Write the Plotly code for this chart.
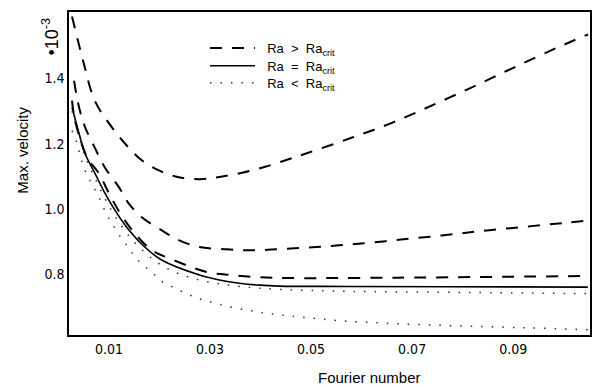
import plotly.graph_objects as go

# Fourier number (x) and max. velocity (y, in units of 1e-3)
x_sup1 = [0.0027, 0.0049, 0.0072, 0.0106, 0.0139, 0.0165, 0.0199, 0.0238, 0.0280, 0.0319,
          0.0364, 0.0411, 0.0457, 0.0496, 0.0580, 0.0660, 0.0746, 0.0831, 0.0910, 0.0989, 0.1048]
y_sup1 = [1.590, 1.454, 1.332, 1.250, 1.188, 1.149, 1.118, 1.097, 1.091, 1.098,
          1.111, 1.130, 1.153, 1.173, 1.218, 1.264, 1.322, 1.382, 1.440, 1.496, 1.535]

x_sup2 = [0.0031, 0.0041, 0.0053, 0.0072, 0.0092, 0.0120, 0.0139, 0.0165, 0.0204, 0.0238,
          0.0279, 0.0333, 0.0378, 0.0421, 0.0467, 0.0510, 0.0555, 0.0600, 0.0648, 0.0693,
          0.0738, 0.0786, 0.0825, 0.0870, 0.0916, 0.0963, 0.1008, 0.1048]
y_sup2 = [1.393, 1.311, 1.250, 1.188, 1.127, 1.066, 1.017, 0.974, 0.935, 0.904,
          0.883, 0.876, 0.873, 0.875, 0.879, 0.883, 0.888, 0.894, 0.901, 0.908,
          0.915, 0.923, 0.930, 0.937, 0.944, 0.951, 0.958, 0.964]

x_sup3 = [0.0027, 0.0033, 0.0057, 0.0080, 0.0100, 0.0122, 0.0151, 0.0185, 0.0218, 0.0295,
          0.0344, 0.0388, 0.0437, 0.0673, 0.1048]
y_sup3 = [1.332, 1.271, 1.158, 1.109, 1.048, 0.987, 0.925, 0.873, 0.849, 0.806,
          0.797, 0.791, 0.788, 0.789, 0.794]

x_crit = [0.00271, 0.00409, 0.00527, 0.00724, 0.00921, 0.01118, 0.01394, 0.01709, 0.02044,
          0.02793, 0.03187, 0.03581, 0.03975, 0.04369, 0.05749, 0.0772, 0.10478]
y_crit = [1.311, 1.231, 1.170, 1.109, 1.048, 0.996, 0.935, 0.883, 0.843,
          0.797, 0.782, 0.772, 0.766, 0.763, 0.762, 0.761, 0.760]

x_sub1 = [0.0027, 0.0041, 0.0053, 0.0072, 0.0092, 0.0112, 0.0139, 0.0171, 0.0204, 0.0240,
          0.0279, 0.0319, 0.0358, 0.0437, 0.0575, 0.0775, 0.1048]
y_sub1 = [1.300, 1.220, 1.160, 1.095, 1.032, 0.978, 0.918, 0.866, 0.827, 0.800,
          0.782, 0.770, 0.762, 0.753, 0.747, 0.744, 0.740]

x_sub2 = [0.0027, 0.0037, 0.0043, 0.0049, 0.0057, 0.0066, 0.0076, 0.0086, 0.0096, 0.0106,
          0.0118, 0.0132, 0.0145, 0.0157, 0.0175, 0.0191, 0.0206, 0.0226, 0.0250, 0.0269,
          0.0289, 0.0313, 0.0334, 0.0378, 0.0421, 0.0467, 0.0512, 0.0555, 0.0600, 0.0648,
          0.0713, 0.0811, 0.0930, 0.1048]
y_sub2 = [1.240, 1.201, 1.164, 1.133, 1.103, 1.078, 1.048, 1.017, 0.980, 0.956,
          0.925, 0.895, 0.867, 0.843, 0.818, 0.797, 0.776, 0.760, 0.742, 0.730,
          0.719, 0.710, 0.701, 0.688, 0.678, 0.670, 0.663, 0.657, 0.653, 0.649,
          0.645, 0.640, 0.635, 0.629]

x_ticks = [0.01, 0.03, 0.05, 0.07, 0.09]
x_tick_labels = ["0.01", "0.03", "0.05", "0.07", "0.09"]
y_ticks = [0.8, 1.0, 1.2, 1.4]
y_tick_labels = ["0.8", "1.0", "1.2", "1.4"]

label_sup = "  Ra  >  Ra<sub>crit</sub>"
label_crit = "  Ra  =  Ra<sub>crit</sub>"
label_sub = "  Ra  <  Ra<sub>crit</sub>"

FONT = "DejaVu Sans Condensed, Liberation Sans, Arial, sans-serif"
LFONT = "Liberation Sans, Arial, sans-serif"

dash_style = dict(color="black", width=2, dash="12px,10px")
dot_style = dict(color="#333333", width=1.5, dash="1.5px,9px")
solid_style = dict(color="black", width=1.6)

fig = go.Figure()
fig.add_trace(go.Scatter(x=x_sup1, y=y_sup1, mode="lines", line=dash_style, line_shape="spline",
                         name=label_sup, legend="legend"))
fig.add_trace(go.Scatter(x=x_sup2, y=y_sup2, mode="lines", line=dash_style, line_shape="spline",
                         showlegend=False))
fig.add_trace(go.Scatter(x=x_sup3, y=y_sup3, mode="lines", line=dash_style, line_shape="spline",
                         showlegend=False))
fig.add_trace(go.Scatter(x=x_crit, y=y_crit, mode="lines", line=solid_style, line_shape="spline",
                         name=label_crit, legend="legend2"))
fig.add_trace(go.Scatter(x=x_sub1, y=y_sub1, mode="lines", line=dot_style, line_shape="spline",
                         name=label_sub, legend="legend3"))
fig.add_trace(go.Scatter(x=x_sub2, y=y_sub2, mode="lines", line=dot_style, line_shape="spline",
                         showlegend=False))

axis_common = dict(showline=True, linecolor="black", linewidth=1.5, mirror=True,
                   showgrid=False, zeroline=False, ticks="",
                   tickfont=dict(family=FONT, size=14, color="black"))

leg_common = dict(xanchor="left", yanchor="top", bgcolor="rgba(0,0,0,0)",
                  font=dict(family=LFONT, size=13, color="black"), itemwidth=45)

fig.update_layout(
    width=602, height=387,
    margin=dict(l=69, r=10, t=11, b=52),
    paper_bgcolor="white", plot_bgcolor="white",
    font=dict(family=FONT, color="black"),
    xaxis=dict(range=[0.0021, 0.1052], tickvals=x_ticks, ticktext=x_tick_labels, **axis_common),
    yaxis=dict(range=[0.613, 1.604], tickvals=y_ticks, ticktext=y_tick_labels,
               ticklabelstandoff=0, **axis_common),
    legend=dict(x=0.261, y=0.935, **leg_common),
    legend2=dict(x=0.261, y=0.880, **leg_common),
    legend3=dict(x=0.261, y=0.827, **leg_common),
    annotations=[
        dict(text="Fourier number", xref="paper", yref="paper", x=0.577, y=-0.133,
             xanchor="center", yanchor="middle", showarrow=False,
             font=dict(family=LFONT, size=15, color="black")),
        dict(text="Max. velocity", xref="paper", yref="paper", x=-0.09, y=0.571,
             xanchor="center", yanchor="middle", showarrow=False, textangle=-90,
             font=dict(family=LFONT, size=15, color="black")),
        dict(text="•10<sup>-3</sup>", xref="paper", yref="paper", x=-0.036, y=0.925,
             xanchor="center", yanchor="middle", showarrow=False, textangle=-90,
             font=dict(family=LFONT, size=18, color="black")),
    ],
)

fig.write_html("out.html")
